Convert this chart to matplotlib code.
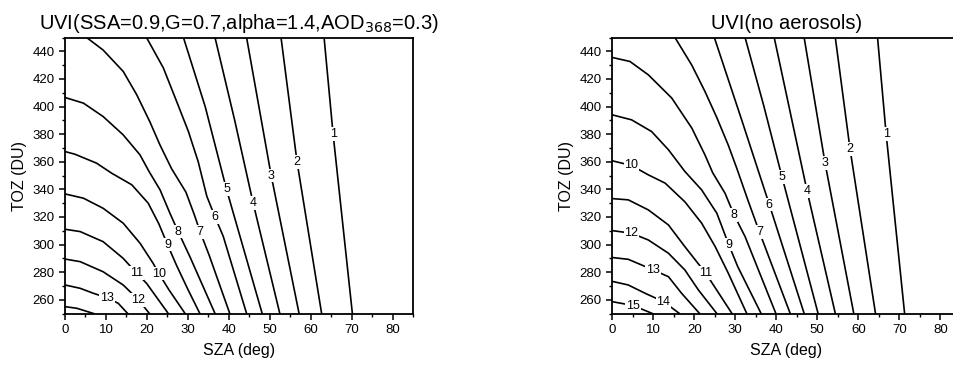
import numpy as np
import matplotlib.pyplot as plt
from matplotlib.ticker import MultipleLocator

plt.rcParams['font.family'] = ['Liberation Sans', 'DejaVu Sans']

# UVI isolines, (SZA deg, TOZ DU) vertices for each level
aer_lines = {
    1: [(63.2, 450), (65.4, 380), (70.1, 250)],
    2: [(52.7, 450), (56.6, 360), (62.6, 250)],
    3: [(44.3, 450), (50.3, 350), (57.1, 250)],
    4: [(36.6, 450), (41.4, 390), (45.9, 330), (52.4, 250)],
    5: [(28.9, 450), (34.2, 400), (39.4, 340), (48.1, 250)],
    6: [(19.9, 450), (24.0, 428), (27.2, 404), (30.1, 382), (32.5, 360),
        (34.6, 335), (36.6, 320), (38.6, 306), (44.3, 250)],
    7: [(5.3, 450), (9.3, 441), (14.2, 425.5), (17.5, 408.6), (20.7, 389),
        (23.2, 372), (26.0, 355), (29.5, 338), (31.5, 322), (33.0, 309),
        (35.2, 292), (40.2, 250)],
    8: [(0, 406.6), (4.5, 402.5), (9.3, 392.8), (14.2, 379.5), (18.3, 365),
        (20.5, 353), (23.2, 339.6), (25.6, 322.7), (27.6, 309.4), (30.5, 291),
        (36.6, 250)],
    9: [(0, 367.4), (2.4, 365.5), (7.7, 359), (11.4, 351.7), (16.3, 343.3),
        (20.3, 330), (22.9, 315), (25.0, 300), (27.2, 285), (29.9, 268),
        (32.9, 250)],
    10: [(0, 336.7), (4.5, 333.6), (9.3, 326.3), (14.2, 315.5), (18.3, 301),
         (21.5, 286.4), (22.9, 279), (25.4, 267), (29.3, 250)],
    11: [(0, 311.1), (3.7, 309.4), (9.3, 302.1), (14.2, 290), (17.5, 279.2),
         (19.9, 271.9), (25.2, 250)],
    12: [(0, 289.5), (3.7, 287.6), (9.3, 280.3), (14.2, 270.7), (17.9, 260),
         (20.6, 250)],
    13: [(0, 270.7), (3.7, 268.3), (6.9, 264.7), (10.2, 261.5), (13.0, 257.4),
         (15.3, 250)],
    14: [(0, 255), (2.9, 253.8), (7.0, 250)],
}
aer_label_sza = {1: 65.4, 2: 56.6, 3: 50.3, 4: 45.9, 5: 39.4, 6: 36.6, 7: 33.0,
                 8: 27.6, 9: 25.0, 10: 22.9, 11: 17.5, 12: 17.9, 13: 10.2}

clean_lines = {
    1: [(64.7, 450), (66.8, 380), (71.3, 250)],
    2: [(54.4, 450), (58.0, 369), (64.2, 250)],
    3: [(46.8, 450), (51.9, 359), (58.9, 250)],
    4: [(39.5, 450), (47.5, 339), (54.4, 250)],
    5: [(32.4, 450), (37.0, 400), (41.4, 349), (50.2, 250)],
    6: [(24.9, 450), (31.6, 390), (38.3, 329), (46.8, 250)],
    7: [(15.3, 450), (19.4, 430), (22.6, 411), (25.5, 392), (28.3, 372),
        (30.4, 355), (33.1, 332), (35.9, 309), (43.4, 250)],
    8: [(0, 435.6), (4.3, 432.7), (8.8, 423), (14.5, 406.2), (19.4, 384.4),
        (22.6, 365), (24.5, 352), (27.5, 337.2), (29.7, 321.5), (32.4, 305.7),
        (39.9, 250)],
    9: [(0, 394), (4.7, 390.4), (9.6, 381.9), (13.7, 368.7), (17.7, 353),
        (21.8, 339.6), (25.5, 322.7), (28.4, 300), (30.6, 284), (36.3, 250)],
    10: [(0, 360.7), (4.7, 357.3), (8.8, 350.5), (12.9, 344.5), (17.7, 331),
         (21.8, 315.5), (25.1, 298.5), (28.3, 279.2), (32.8, 250)],
    11: [(0, 333.3), (3.9, 332.4), (8.8, 325.1), (13.7, 314.2), (17.7, 298.5),
         (22.8, 279.2), (29.2, 250)],
    12: [(0, 310.1), (4.7, 308.2), (8.8, 303.3), (13.7, 293.7), (17.7, 281.6),
         (21.0, 267.1), (25.5, 250)],
    13: [(0, 290.6), (3.9, 289.3), (10.0, 281.6), (13.7, 276.7), (16.9, 264.7),
         (21.3, 250)],
    14: [(0, 273.3), (3.9, 270.7), (8.0, 264.7), (12.5, 258.6), (16.4, 250)],
    15: [(0, 258.6), (5.1, 255.8), (9.8, 250)],
}
clean_label_sza = {1: 66.8, 2: 58.0, 3: 51.9, 4: 47.5, 5: 41.4, 6: 38.3, 7: 35.9,
                   8: 29.7, 9: 28.4, 10: 4.7, 11: 22.8, 12: 4.7, 13: 10.0,
                   14: 12.5, 15: 5.1}

sza_ticks = np.arange(0, 81, 10)
toz_ticks = np.arange(260, 441, 20)


def draw_panel(ax, lines, label_sza, title):
    for level, pts in lines.items():
        pts = np.array(pts, dtype=float)
        ax.plot(pts[:, 0], pts[:, 1], color='black', lw=1.2, zorder=2)
        if level in label_sza:
            s = label_sza[level]
            t = np.interp(s, pts[:, 0], pts[:, 1])
            ax.text(s, t, str(level), ha='center', va='center', fontsize=9,
                    zorder=3,
                    bbox=dict(fc='white', ec='none', pad=0.6))
    ax.set_xlim(0, 85)
    ax.set_ylim(250, 450)
    ax.set_xticks(sza_ticks)
    ax.set_yticks(toz_ticks)
    ax.xaxis.set_minor_locator(MultipleLocator(5))
    ax.yaxis.set_minor_locator(MultipleLocator(10))
    ax.tick_params(which='major', direction='out', length=4, width=1.1,
                   labelsize=9.5, top=False, right=False)
    ax.tick_params(which='minor', direction='out', length=2.5, width=1,
                   top=False, right=False)
    for sp in ax.spines.values():
        sp.set_linewidth(1.3)
    ax.set_xlabel('SZA (deg)', fontsize=11.5, labelpad=5)
    ax.set_ylabel('TOZ (DU)', fontsize=11.5, labelpad=4)
    ax.set_title(title, fontsize=14.5, pad=6)


fig = plt.figure(figsize=(9.54, 3.65), dpi=100)
ax1 = fig.add_axes([0.0681, 0.141, 0.3653, 0.756])
ax2 = fig.add_axes([0.6418, 0.141, 0.3653, 0.756])

draw_panel(ax1, aer_lines, aer_label_sza,
           'UVI(SSA=0.9,G=0.7,alpha=1.4,AOD$_{368}$=0.3)')
draw_panel(ax2, clean_lines, clean_label_sza, 'UVI(no aerosols)')

fig.savefig('out.png', dpi=100)
